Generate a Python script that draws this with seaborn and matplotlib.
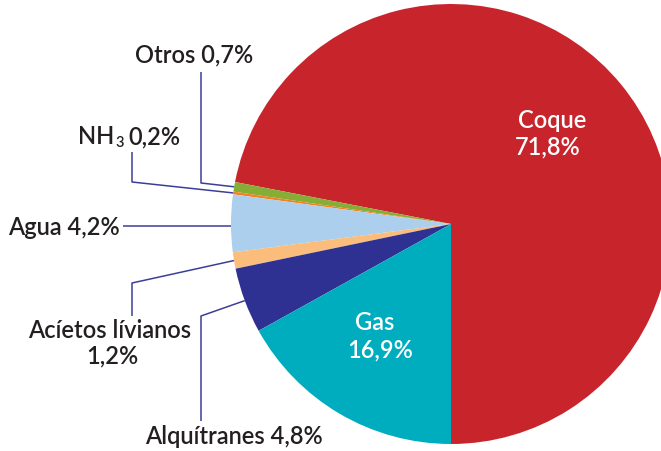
import numpy as np
import matplotlib
matplotlib.use("Agg")
import matplotlib.pyplot as plt
import seaborn as sns

# Composition of products from coal distillation (percent)
categories = ["Coque", "Otros", "NH3", "Agua", "Acíetos lívianos", "Alquítranes", "Gas"]
values = [71.8, 0.7, 0.2, 4.2, 1.2, 4.8, 16.9]
value_labels = ["71,8%", "0,7%", "0,2%", "4,2%", "1,2%", "4,8%", "16,9%"]
colors = ["#C8242C", "#86AE36", "#F5821F", "#ABCFEC", "#FBBD7C", "#2E3192", "#00ADBE"]

sns.set_style("white")
plt.rcParams["font.family"] = ["Lato", "DejaVu Sans"]

W, H = 661, 452
fig = plt.figure(figsize=(W / 100, H / 100), dpi=100)
ax = fig.add_axes([0, 0, 1, 1])

center = (451, H - 225)
R = 220
wedges, _ = ax.pie(values, colors=colors, startangle=-90, counterclock=True,
                   radius=R, center=center, frame=True,
                   wedgeprops=dict(linewidth=0, antialiased=True))
ax.set_xlim(0, W)
ax.set_ylim(0, H)
ax.set_aspect("equal")
ax.axis("off")

line_c = "#3B3F98"
text_c = "#231F20"
fs = 17
fw = "semibold"
renderer = fig.canvas.get_renderer()


def py(y):
    # top-down pixel row to axes data coordinate
    return H - y


def anchor(i, frac=0.5):
    w = wedges[i]
    ang = np.deg2rad(w.theta1 + frac * (w.theta2 - w.theta1))
    return center[0] + R * np.cos(ang), center[1] + R * np.sin(ang)


def leader(pts):
    xs, ys = zip(*pts)
    ax.plot(xs, ys, color=line_c, lw=1.1, solid_capstyle="butt", zorder=3)


def label(x, y, s, ha="center", color=text_c, va="center", size=fs):
    return ax.text(x, y, s, ha=ha, va=va, fontsize=size, fontweight=fw, color=color)


def right_edge(t):
    ext = t.get_window_extent(renderer)
    return ax.transData.inverted().transform((ext.x1, ext.y0))[0]


# Otros
ax_, ay_ = anchor(1)
leader([(201, py(73)), (201, py(184)), (ax_, ay_)])
label(194, py(55), "Otros " + value_labels[1])

# NH3 with a subscript 3
ax_, ay_ = anchor(2)
leader([(132, py(153)), (132, py(183)), (ax_, ay_)])
base = py(144)
t_nh = label(78, base, "NH", ha="left", va="baseline")
t_sub = label(right_edge(t_nh) + 1, base - 3, "3", ha="left", va="baseline", size=fs * 0.62)
label(right_edge(t_sub) + 5, base, value_labels[2], ha="left", va="baseline")

# Agua
ax_, ay_ = anchor(3, 0.55)
leader([(123, ay_), (ax_, ay_)])
label(120, ay_, "Agua " + value_labels[3], ha="right")

# Acietos livianos
ax_, ay_ = anchor(4)
leader([(132, py(317)), (132, py(284)), (ax_, ay_)])
label(110, py(331), categories[4])
label(112, py(356), value_labels[4])

# Alquitranes
ax_, ay_ = anchor(5)
leader([(201, py(422)), (201, py(317)), (ax_, ay_)])
label(145, py(437), categories[5] + " " + value_labels[5], ha="left")

# Inner labels
label(552, py(120), categories[0], color="white")
label(548, py(147), value_labels[0], color="white")
label(375, py(323), categories[6], color="white")
label(380, py(350), value_labels[6], color="white")

fig.savefig("out.png", dpi=100, facecolor="white")
